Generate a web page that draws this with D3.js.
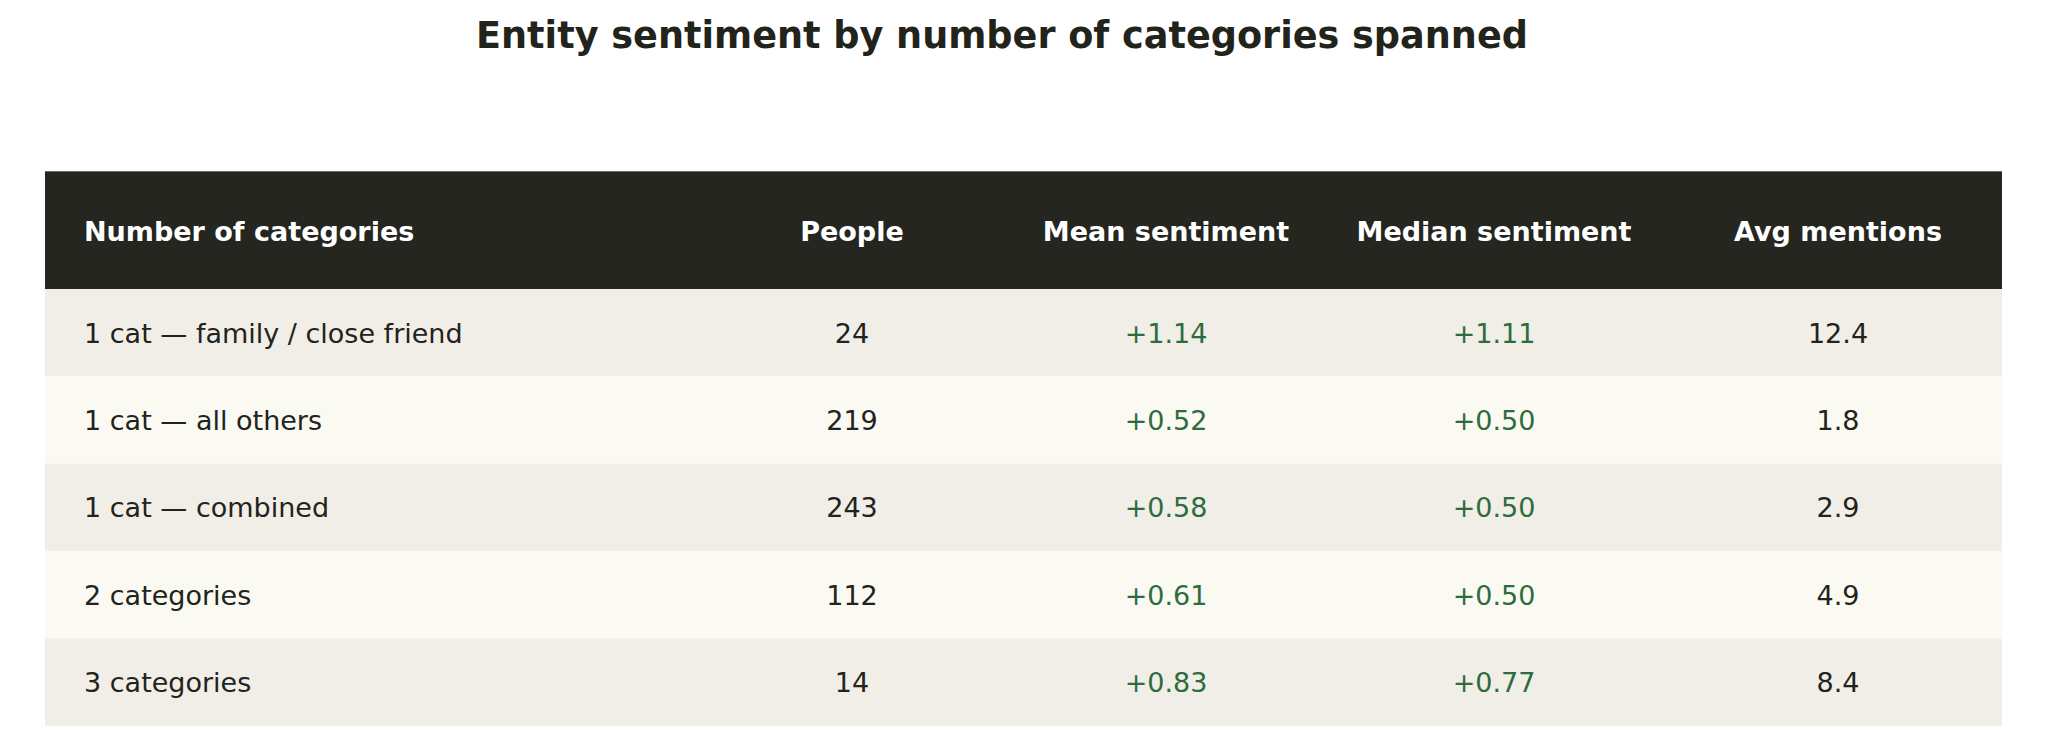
<!DOCTYPE html>
<html>
<head>
<meta charset="utf-8">
<script src="https://cdn.jsdelivr.net/npm/d3@7"></script>
<style>
  html, body { margin: 0; padding: 0; background: #ffffff; }
  svg { display: block; font-family: "DejaVu Sans", sans-serif; }
</style>
</head>
<body>
<svg id="chart"></svg>
<script>
var title = "Entity sentiment by number of categories spanned";
var columns = ["Number of categories", "People", "Mean sentiment", "Median sentiment", "Avg mentions"];
var categories = ["1 cat \u2014 family / close friend", "1 cat \u2014 all others", "1 cat \u2014 combined", "2 categories", "3 categories"];
var people = [24, 219, 243, 112, 14];
var meanSentiment = [1.14, 0.52, 0.58, 0.61, 0.83];
var medianSentiment = [1.11, 0.50, 0.50, 0.50, 0.77];
var avgMentions = [12.4, 1.8, 2.9, 4.9, 8.4];

var width = 2048, height = 743;
var tableLeft = 45, tableRight = 2002;
var headerTop = 171, headerBottom = 289, tableBottom = 726;
var fontSize = 27;

var svg = d3.select("#chart").attr("width", width).attr("height", height);

// column anchors (x of text) – first column left aligned, others centred
var colX = d3.scaleOrdinal()
  .domain(columns)
  .range([84, 852, 1166, 1494, 1838]);

var rowY = d3.scaleBand()
  .domain(categories)
  .range([headerBottom, tableBottom]);

var signed = d3.format("+.2f");
var oneDec = d3.format(".1f");

var rows = categories.map(function(c, i) {
  return {
    cat: c,
    cells: [
      { col: columns[0], text: c, color: "#22231c" },
      { col: columns[1], text: String(people[i]), color: "#22231c" },
      { col: columns[2], text: signed(meanSentiment[i]), color: meanSentiment[i] >= 0 ? "#2e6c3d" : "#a33a2a" },
      { col: columns[3], text: signed(medianSentiment[i]), color: medianSentiment[i] >= 0 ? "#2e6c3d" : "#a33a2a" },
      { col: columns[4], text: oneDec(avgMentions[i]), color: "#22231c" }
    ]
  };
});

var titleText = svg.append("text")
  .attr("x", 1002)
  .attr("y", 47.5)
  .attr("text-anchor", "middle")
  .attr("font-weight", "bold")
  .attr("font-size", 36)
  .attr("fill", "#22231a")
  .text(title);
// fit title to its width in the reference
var tw = titleText.node().getComputedTextLength();
if (tw > 0) titleText.attr("font-size", 36 * 1052 / tw);

// header
svg.append("rect")
  .attr("x", tableLeft)
  .attr("y", headerTop)
  .attr("width", tableRight - tableLeft)
  .attr("height", headerBottom - headerTop)
  .attr("fill", "#25261f");

svg.append("line")
  .attr("x1", tableLeft).attr("x2", tableRight)
  .attr("y1", headerTop + 0.5).attr("y2", headerTop + 0.5)
  .attr("stroke", "#6f6f6a")
  .attr("stroke-width", 1);

svg.selectAll("text.head")
  .data(columns)
  .enter().append("text")
  .attr("class", "head")
  .attr("x", function(d) { return colX(d); })
  .attr("y", (headerTop + headerBottom) / 2 + 10.5)
  .attr("text-anchor", function(d, i) { return i === 0 ? "start" : "middle"; })
  .attr("font-weight", "bold")
  .attr("font-size", fontSize)
  .attr("fill", "#ffffff")
  .text(function(d) { return d; });

// body rows
var row = svg.selectAll("g.row")
  .data(rows)
  .enter().append("g")
  .attr("class", "row")
  .attr("transform", function(d) { return "translate(0," + rowY(d.cat) + ")"; });

row.append("rect")
  .attr("x", tableLeft)
  .attr("width", tableRight - tableLeft)
  .attr("height", rowY.bandwidth())
  .attr("fill", function(d, i) { return i % 2 === 0 ? "#f1eee7" : "#fafaf2"; });

row.selectAll("text")
  .data(function(d) { return d.cells; })
  .enter().append("text")
  .attr("x", function(d) { return colX(d.col); })
  .attr("y", rowY.bandwidth() / 2 + 10)
  .attr("text-anchor", function(d, i) { return i === 0 ? "start" : "middle"; })
  .attr("font-size", fontSize)
  .attr("fill", function(d) { return d.color; })
  .text(function(d) { return d.text; });
</script>
</body>
</html>
